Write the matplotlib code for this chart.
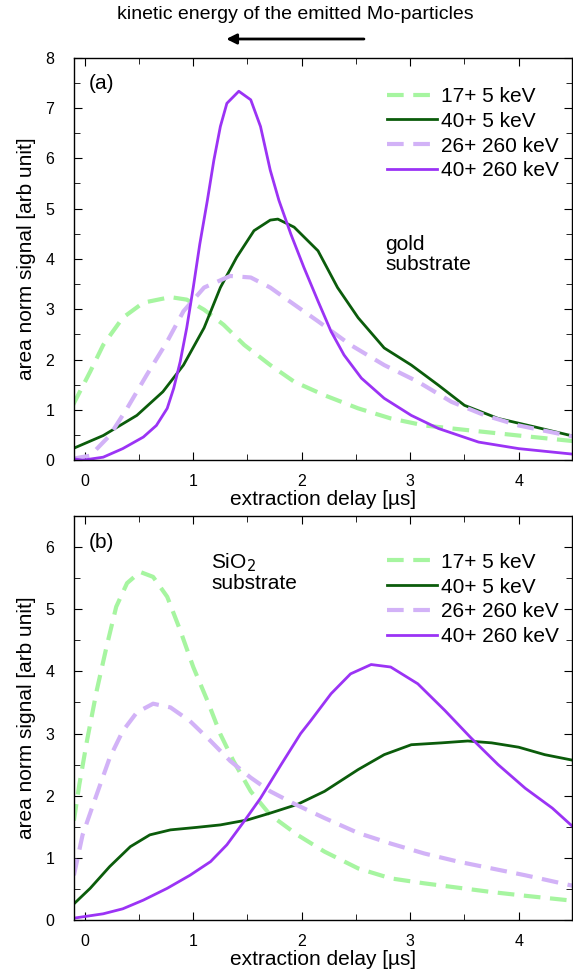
import matplotlib
matplotlib.use("Agg")
from matplotlib import pyplot as plt

plt.rcParams['font.family'] = ['Liberation Sans', 'DejaVu Sans']

# ---- panel (a): gold substrate ----
a_x_17_5 = [-0.11, 0.05, 0.17, 0.35, 0.54, 0.79, 0.94, 1.1, 1.28, 1.47, 1.71, 1.93, 2.21, 2.52,
            2.82, 3.13, 3.56, 4.0, 4.5]
a_y_17_5 = [1.09, 1.76, 2.29, 2.83, 3.13, 3.24, 3.19, 2.99, 2.69, 2.29, 1.89, 1.56, 1.29, 1.03,
            0.83, 0.69, 0.59, 0.49, 0.38]

a_x_40_5 = [-0.11, 0.17, 0.48, 0.72, 0.91, 1.1, 1.25, 1.4, 1.56, 1.71, 1.78, 1.93, 2.15, 2.33,
            2.52, 2.76, 3.01, 3.26, 3.5, 3.81, 4.15, 4.5]
a_y_40_5 = [0.23, 0.49, 0.89, 1.36, 1.89, 2.63, 3.43, 4.03, 4.56, 4.77, 4.79, 4.63, 4.16, 3.43,
            2.83, 2.23, 1.89, 1.49, 1.09, 0.83, 0.66, 0.48]

a_x_26_260 = [-0.11, 0.05, 0.23, 0.39, 0.57, 0.76, 0.91, 1.1, 1.34, 1.53, 1.71, 1.84, 2.15, 2.45,
              2.76, 3.07, 3.38, 3.69, 4.0, 4.5]
a_y_26_260 = [0.03, 0.09, 0.49, 1.03, 1.69, 2.36, 2.96, 3.43, 3.66, 3.63, 3.43, 3.23, 2.76, 2.29,
              1.89, 1.56, 1.16, 0.89, 0.69, 0.47]

a_x_40_260 = [-0.11, -0.02, 0.17, 0.35, 0.54, 0.66, 0.76, 0.82, 0.88, 0.94, 1.0, 1.06, 1.13, 1.19,
              1.25, 1.31, 1.42, 1.53, 1.62, 1.71, 1.79, 1.9, 2.02, 2.15, 2.27, 2.39, 2.55, 2.76,
              3.01, 3.26, 3.63, 4.0, 4.5]
a_y_40_260 = [0.03, 0.0, 0.06, 0.23, 0.46, 0.69, 1.03, 1.43, 1.96, 2.63, 3.43, 4.29, 5.16, 5.96,
              6.63, 7.09, 7.33, 7.16, 6.63, 5.76, 5.16, 4.49, 3.83, 3.16, 2.56, 2.09, 1.63, 1.23,
              0.89, 0.63, 0.36, 0.23, 0.12]

# ---- panel (b): SiO2 substrate ----
b_x_17_5 = [-0.1, -0.05, 0.02, 0.11, 0.2, 0.29, 0.39, 0.51, 0.63, 0.76, 0.88, 1.0, 1.13, 1.25,
            1.37, 1.53, 1.71, 1.96, 2.21, 2.52, 2.82, 3.13, 3.44, 3.75, 4.06, 4.5]
b_y_17_5 = [1.6, 2.18, 2.88, 3.69, 4.39, 5.04, 5.42, 5.6, 5.52, 5.2, 4.66, 4.07, 3.53, 2.99,
            2.56, 2.07, 1.69, 1.37, 1.1, 0.83, 0.67, 0.59, 0.52, 0.45, 0.39, 0.31]

b_x_40_5 = [-0.1, 0.05, 0.23, 0.42, 0.6, 0.79, 1.03, 1.25, 1.5, 1.71, 1.96, 2.21, 2.52, 2.76,
            3.01, 3.29, 3.53, 3.75, 4.0, 4.24, 4.5]
b_y_40_5 = [0.26, 0.51, 0.86, 1.18, 1.37, 1.45, 1.49, 1.53, 1.61, 1.72, 1.86, 2.07, 2.42, 2.66,
            2.82, 2.85, 2.88, 2.85, 2.78, 2.66, 2.57]

b_x_26_260 = [-0.1, -0.02, 0.11, 0.23, 0.35, 0.48, 0.63, 0.79, 0.97, 1.16, 1.34, 1.53, 1.71, 1.93,
              2.21, 2.52, 2.82, 3.13, 3.44, 3.75, 4.06, 4.5]
b_y_26_260 = [0.72, 1.37, 2.02, 2.61, 3.04, 3.34, 3.48, 3.42, 3.2, 2.88, 2.56, 2.29, 2.07, 1.87,
              1.64, 1.4, 1.23, 1.07, 0.94, 0.83, 0.72, 0.55]

b_x_40_260 = [-0.1, 0.17, 0.35, 0.54, 0.76, 0.97, 1.16, 1.31, 1.47, 1.62, 1.81, 1.99, 2.08, 2.27,
              2.45, 2.64, 2.82, 3.07, 3.32, 3.56, 3.81, 4.06, 4.31, 4.5]
b_y_40_260 = [0.03, 0.1, 0.18, 0.32, 0.51, 0.72, 0.94, 1.21, 1.59, 1.96, 2.5, 3.0, 3.2, 3.64,
              3.96, 4.11, 4.07, 3.8, 3.37, 2.93, 2.5, 2.12, 1.8, 1.5]

labels = ['17+ 5 keV', '40+ 5 keV', '26+ 260 keV', '40+ 260 keV']
light_green = '#a6f5a0'
dark_green = '#0b5c0b'
light_purple = '#d2b2f7'
purple = '#9b33f5'

fig = plt.figure(figsize=(5.73, 9.75), dpi=100)
ax1 = fig.add_axes([0.129, 0.528, 0.869, 0.413])
ax2 = fig.add_axes([0.129, 0.0564, 0.869, 0.4144])


def draw(ax, data, leg_y):
    (x1, y1), (x2, y2), (x3, y3), (x4, y4) = data
    ax.plot(x1, y1, color=light_green, lw=3, dashes=(4, 2.3), label=labels[0])
    ax.plot(x2, y2, color=dark_green, lw=2, label=labels[1])
    ax.plot(x3, y3, color=light_purple, lw=3, dashes=(4, 2.3), label=labels[2])
    ax.plot(x4, y4, color=purple, lw=2, label=labels[3])
    ax.set_xlim(-0.1, 4.49)
    ax.set_xticks([0, 1, 2, 3, 4])
    ax.set_xticks([0.5, 1.5, 2.5, 3.5], minor=True)
    ax.tick_params(which='both', direction='in', top=True, right=True, labelsize=11.5)
    ax.tick_params(which='major', length=6)
    ax.tick_params(axis='x', which='major', pad=10)
    ax.tick_params(axis='y', which='major', pad=14)
    ax.tick_params(which='minor', length=4)
    ax.set_xlabel('extraction delay [µs]', fontsize=15, labelpad=1)
    ax.set_ylabel('area norm signal [arb unit]', fontsize=15, labelpad=7)
    ax.legend(loc='upper right', frameon=False, fontsize=15, handlelength=2.4,
              handletextpad=0.2, labelspacing=0.28, borderaxespad=0.2,
              bbox_to_anchor=(1.0, leg_y))
    for sp in ax.spines.values():
        sp.set_linewidth(1.0)


draw(ax1, [(a_x_17_5, a_y_17_5), (a_x_40_5, a_y_40_5), (a_x_26_260, a_y_26_260),
           (a_x_40_260, a_y_40_260)], 0.958)
ax1.set_ylim(0, 8)
ax1.set_yticks(range(0, 9))
ax1.set_yticks([i + 0.5 for i in range(8)], minor=True)
ax1.text(0.03, 0.935, '(a)', transform=ax1.transAxes, fontsize=15, va='center')
ax1.text(0.625, 0.51, 'gold\nsubstrate', transform=ax1.transAxes, fontsize=15,
         va='center', linespacing=1.05)

draw(ax2, [(b_x_17_5, b_y_17_5), (b_x_40_5, b_y_40_5), (b_x_26_260, b_y_26_260),
           (b_x_40_260, b_y_40_260)], 0.94)
ax2.set_ylim(0, 6.5)
ax2.set_yticks(range(0, 7))
ax2.set_yticks([i + 0.5 for i in range(7)], minor=True)
ax2.text(0.03, 0.935, '(b)', transform=ax2.transAxes, fontsize=15, va='center')
ax2.text(0.276, 0.86, 'SiO$_2$\nsubstrate', transform=ax2.transAxes, fontsize=15,
         va='center', linespacing=1.0)

# header with arrow
fig.text(0.515, 0.985, 'kinetic energy of the emitted Mo-particles', ha='center', va='center',
         fontsize=14)
fig.add_artist(plt.Annotation('', xy=(0.39, 0.960), xytext=(0.64, 0.960),
                              xycoords='figure fraction', textcoords='figure fraction',
                              arrowprops=dict(arrowstyle='-|>', color='black', lw=2,
                                              mutation_scale=15)))

fig.savefig('out.png', dpi=100)
